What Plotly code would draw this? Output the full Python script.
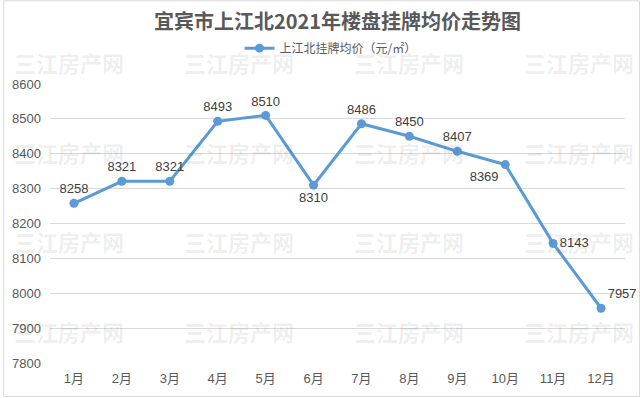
import plotly.graph_objects as go

months = ["1月", "2月", "3月", "4月", "5月", "6月", "7月", "8月", "9月", "10月", "11月", "12月"]
prices = [8258, 8321, 8321, 8493, 8510, 8310, 8486, 8450, 8407, 8369, 8143, 7957]
label_pos = ["top center", "top center", "top center", "top center", "top center",
             "bottom center", "top center", "top center", "top center",
             "bottom left", "middle right", "top right"]
series_name = "上江北挂牌均价（元/㎡）"
title_text = "宜宾市上江北2021年楼盘挂牌均价走势图"
watermark = "三江房产网"

W, H = 640, 398
ML, MR, MT, MB = 47, 15, 84, 34
PW, PH = W - ML - MR, H - MT - MB

def px_x(px):
    return (px - ML) / PW

def px_y(py):
    return (H - MB - py) / PH

FONT = "Liberation Sans, Noto Sans CJK SC, sans-serif"
BLUE = "#5B9BD5"

fig = go.Figure()
fig.add_trace(go.Scatter(
    x=months, y=prices, name=series_name,
    mode="lines+markers+text",
    line=dict(color=BLUE, width=3),
    marker=dict(color=BLUE, size=9),
    text=[str(v) for v in prices],
    textposition=label_pos,
    textfont=dict(family=FONT, size=13, color="#404040"),
    cliponaxis=False,
))

annotations = []
wm_cols = [66, 237, 408, 579]
wm_rows = [62, 152, 242, 332]
for ry in wm_rows:
    for cx in wm_cols:
        annotations.append(dict(
            text=watermark, xref="paper", yref="paper",
            x=px_x(cx), y=px_y(ry), xanchor="center", yanchor="middle",
            showarrow=False,
            font=dict(family="Noto Sans CJK SC", size=22, color="rgba(0,0,0,0.085)", weight="bold"),
        ))

fig.update_layout(
    width=W, height=H,
    margin=dict(l=ML, r=MR, t=MT, b=MB),
    paper_bgcolor="white", plot_bgcolor="white",
    font=dict(family=FONT, color="#595959"),
    title=dict(text=title_text, x=0.5, xanchor="center", xref="paper",
               y=1 - 22 / H, yanchor="middle",
               font=dict(family="Noto Sans CJK SC", size=20, color="#595959", weight="bold")),
    showlegend=True,
    legend=dict(orientation="h", x=px_x(329), xanchor="center", y=px_y(48), yanchor="middle",
                font=dict(family="Noto Sans CJK SC", size=12, color="#595959"),
                bgcolor="rgba(0,0,0,0)"),
    xaxis=dict(range=[-0.5, 11.5], showgrid=False, zeroline=False, showline=False,
               ticks="", tickfont=dict(family=FONT, size=13, color="#595959"),
               ticklabelstandoff=6, fixedrange=True),
    yaxis=dict(range=[7800, 8600], dtick=100, showgrid=True, gridcolor="#D9D9D9", gridwidth=1,
               zeroline=False, showline=False, ticks="",
               tickfont=dict(family=FONT, size=13, color="#595959"),
               ticklabelstandoff=8, fixedrange=True),
    annotations=annotations,
    shapes=[dict(type="rect", xref="paper", yref="paper",
                 x0=px_x(0.5), x1=px_x(639.5), y0=px_y(397.5), y1=px_y(0.5),
                 line=dict(color="#D9D9D9", width=1), layer="below")],
)

fig.write_html("out.html", config={"displayModeBar": False},
               post_script="document.body.style.margin='0';document.body.style.overflow='hidden';")
